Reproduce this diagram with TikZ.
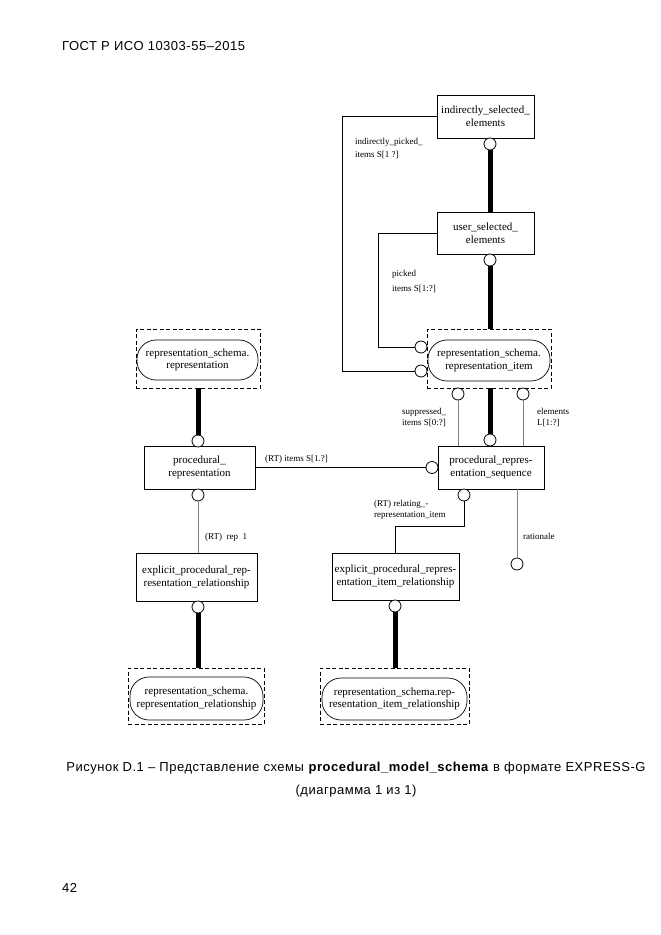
\documentclass[tikz,border=0pt]{standalone}
\usepackage{fontspec}
\setmainfont{Liberation Serif}
\newfontfamily\capfont[LetterSpace=4]{Liberation Sans}
\usetikzlibrary{positioning}
\begin{document}
\begin{tikzpicture}[x=1pt,y=-1pt,
    entity/.style={draw,rectangle,line width=0.8pt,align=center,font=\fontsize{11}{13}\selectfont},
    refbox/.style={draw,line width=0.7pt,dash pattern=on 4pt off 2.5pt},
    refname/.style={draw,rectangle,line width=0.7pt,rounded corners=19pt,align=center,font=\fontsize{11}{12.5}\selectfont},
    ring/.style={draw,circle,line width=0.8pt,fill=white,minimum size=12pt},
    heavy/.style={line width=5pt},
    link/.style={line width=0.8pt},
    pale/.style={line width=0.8pt,black!50},
    lbl/.style={align=left,font=\fontsize{9}{11}\selectfont}]
  \tikzstyle{every node}+=[inner sep=0pt]
  \useasboundingbox (0,0) rectangle (661,935);
  \node[entity,minimum width=97pt,minimum height=43pt] (ise) at (485.5,116.5) {indirectly\_selected\_\\elements};
  \node[entity,minimum width=97pt,minimum height=42pt] (use) at (485.5,233) {user\_selected\_\\elements};
  \node[refbox,minimum width=124pt,minimum height=59pt] (ritembox) at (489,358.5) {};
  \node[refname,minimum width=122pt,minimum height=41pt] (ritem) at (489,360.5) {representation\_schema.\\representation\_item};
  \node[refbox,minimum width=124pt,minimum height=59pt] (rrepbox) at (198,358.5) {};
  \node[refname,minimum width=121pt,minimum height=40pt] (rrep) at (197.5,360) {representation\_schema.\\representation};
  \node[entity,minimum width=111pt,minimum height=43pt] (prep) at (199.5,467.5) {procedural\_\\representation};
  \node[entity,minimum width=106pt,minimum height=43pt] (pseq) at (491,467.5) {procedural\_repres-\\entation\_sequence};
  \node[entity,minimum width=121pt,minimum height=48pt] (eprr) at (196.5,577) {explicit\_procedural\_rep-\\resentation\_relationship};
  \node[entity,minimum width=127pt,minimum height=47pt] (epirr) at (395.5,576.5) {explicit\_procedural\_repres-\\entation\_item\_relationship};
  \node[refbox,minimum width=136pt,minimum height=56pt] (rrrbox) at (196,696) {};
  \node[refname,minimum width=133pt,minimum height=43pt] (rrr) at (196.5,698.5) {representation\_schema.\\representation\_relationship};
  \node[refbox,minimum width=149pt,minimum height=56pt] (rirrbox) at (394.5,696) {};
  \node[refname,minimum width=145pt,minimum height=42pt] (rirr) at (394.5,699) {representation\_schema.rep-\\resentation\_item\_relationship};

  \node[ring] (cise) at (490,144) {};
  \node[ring] (cuse) at (490,260) {};
  \node[ring] (cpick) at (421,347) {};
  \node[ring] (cind) at (421,371) {};
  \node[ring] (csup) at (458,394) {};
  \node[ring] (cel) at (523,394) {};
  \node[ring] (cseq) at (490,440) {};
  \node[ring] (crrep) at (198,441) {};
  \node[ring] (citems) at (432,467.5) {};
  \node[ring] (cprep) at (198,495) {};
  \node[ring] (crel) at (464,495) {};
  \node[ring] (crat) at (517,564) {};
  \node[ring] (ceprr) at (198,607) {};
  \node[ring] (cepirr) at (395,606) {};

  \draw[heavy] (cise) -- (cise |- use.north);
  \draw[heavy] (cuse) -- (cuse |- ritembox.north);
  \draw[link] (use.west) -- ++(-58,0) |- (cpick);
  \draw[link] (ise.west) -- ++(-94,0) |- (cind);
  \draw[heavy] (cseq |- ritembox.south) -- (cseq);
  \draw[pale] (csup) -- (csup |- pseq.north);
  \draw[pale] (cel) -- (cel |- pseq.north);
  \draw[heavy] (crrep |- rrepbox.south) -- (crrep);
  \draw[link] (prep.east) -- (citems);
  \draw[pale] (cprep) -- (cprep |- eprr.north);
  \draw[link] (crel) -- ++(0,31) -| (epirr.north);
  \draw[pale] (crat |- pseq.south) -- (crat);
  \draw[heavy] (ceprr) -- (ceprr |- rrrbox.north);
  \draw[heavy] (cepirr) -- (cepirr |- rirrbox.north);

  \node[lbl,anchor=north west] (lind) at (355,138) {indirectly\_picked\_\\[2pt]items S[1 ?]};
  \node[lbl,anchor=north west] (lpick) at (392,270) {picked\\[4pt]items S[1:?]};
  \node[lbl,anchor=north west] (lsup) at (402,408) {suppressed\_\\items S[0:?]};
  \node[lbl,anchor=north west] (lel) at (537,408) {elements\\L[1:?]};
  \node[lbl,anchor=base west] (litems) at (265,461) {(RT) items S[1.?]};
  \node[lbl,anchor=base west] (lrep) at (205,539) {(RT)\ \ rep\ \ 1};
  \node[lbl,anchor=north west] (lrel) at (374,500) {(RT) relating\_-\\representation\_item};
  \node[lbl,anchor=base west] (lrat) at (523,539) {rationale};

  \node[font=\capfont\fontsize{13}{15}\selectfont,anchor=west] (head) at (62,46) {ГОСТ Р ИСО 10303-55–2015};
  \node[font=\capfont\fontsize{13}{15}\selectfont] (cap1) at (356,768) {Рисунок D.1 – Представление схемы \textbf{procedural\_model\_schema} в формате EXPRESS-G};
  \node[font=\capfont\fontsize{13}{15}\selectfont] (cap2) at (356,791) {(диаграмма 1 из 1)};
  \node[font=\capfont\fontsize{13}{15}\selectfont,anchor=west] (pnum) at (62,888) {42};
\end{tikzpicture}
\end{document}
